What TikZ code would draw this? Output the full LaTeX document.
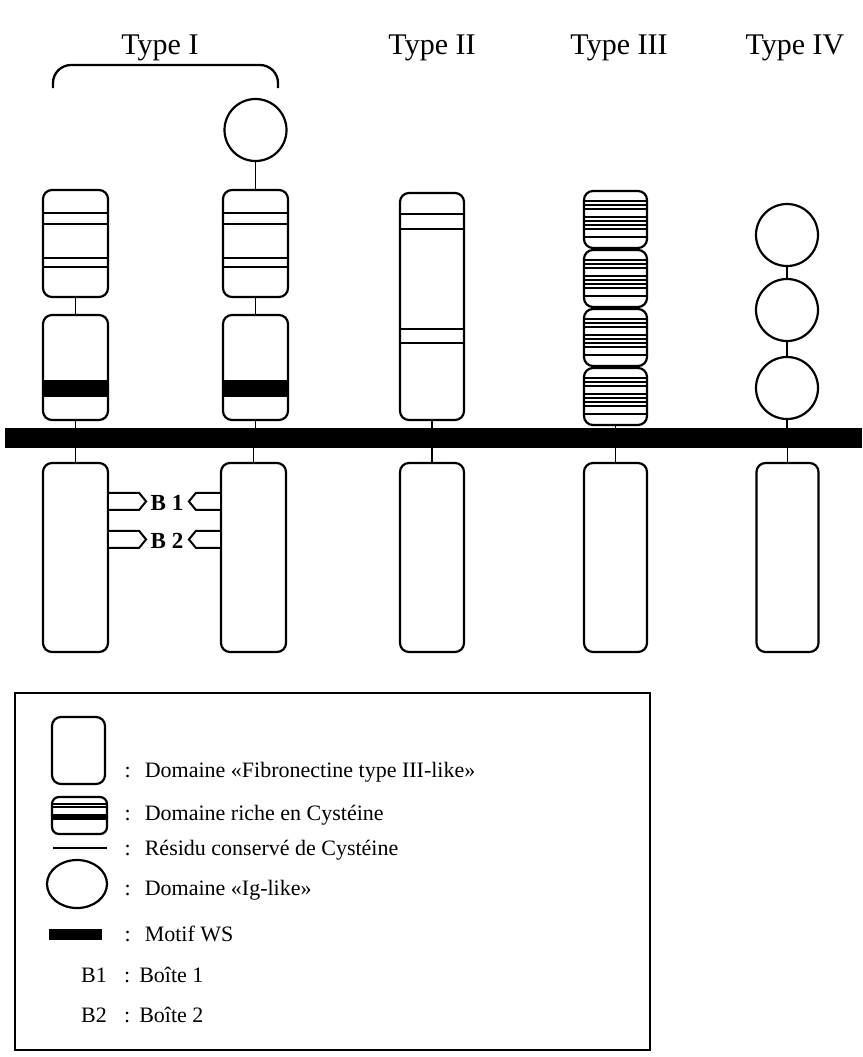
\documentclass[tikz,border=0pt]{standalone}
\usepackage{fontspec}
\setmainfont{Liberation Serif}
\usetikzlibrary{calc,shapes.geometric}

\begin{document}
\begin{tikzpicture}[x=1pt,y=-1pt,
  dom/.style={draw, line width=2.2pt, rounded corners=9pt, minimum width=65pt,
              inner sep=0pt, fill=white},
  ig/.style={draw, circle, line width=2.2pt, minimum size=62pt, inner sep=0pt},
  link/.style={line width=1.8pt},
  cysline/.style={line width=2.2pt},
  tag/.style={line width=2pt, fill=white, line join=miter},
  title/.style={font=\fontsize{30}{35}\selectfont, anchor=base, inner sep=0pt},
  leg/.style={font=\fontsize{22}{26}\selectfont, anchor=base west, inner sep=0pt},
  blab/.style={font=\bfseries\fontsize{23}{27}\selectfont, inner sep=0pt}
]
\useasboundingbox (0,0) rectangle (862,1057);

% ---- column titles
\node[title] (ttI)   at (160,55) {Type I};
\node[title] (ttII)  at (432,55) {Type II};
\node[title] (ttIII) at (619,55) {Type III};
\node[title] (ttIV)  at (795,55) {Type IV};

% bracket grouping the two type I receptors
\draw[line width=2.3pt, rounded corners=18pt] (53,88) -- (53,65) -- (278,65) -- (278,88);

% ---- cell membrane
\node[fill=black, draw=none, inner sep=0pt, minimum width=857pt, minimum height=20pt]
  (mem) at (433.5,438) {};

% ---- type I, first receptor
\node[dom, minimum height=107pt] (t1a) at (75.5,243.5) {};
\node[dom, minimum height=105pt] (t1b) at (75.5,367.5) {};
\foreach \o in {24,35,69,78}
  \draw[cysline] ([yshift=-\o pt]t1a.north west) -- ([yshift=-\o pt]t1a.north east);
\fill ([yshift=-66pt]t1b.north west) rectangle ([yshift=-83pt]t1b.north east);

% ---- type I, second receptor
\node[ig] (t2c) at (255.5,130) {};
\node[dom, minimum height=107pt] (t2a) at (255.5,243.5) {};
\node[dom, minimum height=105pt] (t2b) at (255.5,367.5) {};
\foreach \o in {24,35,69,78}
  \draw[cysline] ([yshift=-\o pt]t2a.north west) -- ([yshift=-\o pt]t2a.north east);
\fill ([yshift=-66pt]t2b.north west) rectangle ([yshift=-83pt]t2b.north east);

% ---- type II
\node[dom, minimum width=64pt, minimum height=227pt] (t3) at (432,306.5) {};
\foreach \o in {22,37,137,151}
  \draw[cysline] ([yshift=-\o pt]t3.north west) -- ([yshift=-\o pt]t3.north east);

% ---- type III: four cysteine-rich domains
\foreach \n/\y in {a/219.5,b/278.5,c/337.5,d/396.5} {
  \node[dom, minimum width=63pt, minimum height=57pt] (t4\n) at (615.5,\y) {};
  \foreach \o/\w in {11/1.8,15/2.4,19/1.6,27/2.4,31/1.6,35/2.2,39/1.6,47/2.4}
    \draw[line width=\w pt] ([yshift=-\o pt]t4\n.north west) -- ([yshift=-\o pt]t4\n.north east);
}

% ---- type IV: three Ig-like domains
\node[ig] (c1) at (787,235) {};
\node[ig] (c2) at (787,310) {};
\node[ig] (c3) at (787,388) {};

% ---- intracellular domains
\node[dom, minimum height=189pt] (l1) at (75.5,557.5) {};
\node[dom, minimum height=189pt] (l2) at (253.5,557.5) {};
\node[dom, minimum width=64pt, minimum height=189pt] (l3) at (432,557.5) {};
\node[dom, minimum width=63pt, minimum height=189pt] (l4) at (615.5,557.5) {};
\node[dom, minimum width=62pt, minimum height=189pt] (l5) at (787.5,557.5) {};

% ---- linkers
\draw[link] (t1a) -- (t1b);
\draw[link] (t1b.south) -- (t1b.south |- mem.north);
\draw[link] (l1.north |- mem.south) -- (l1.north);
\draw[link] (t2c) -- (t2a);
\draw[link] (t2a) -- (t2b);
\draw[link] (t2b.south) -- (t2b.south |- mem.north);
\draw[link] (l2.north |- mem.south) -- (l2.north);
\draw[link] (t3.south) -- (t3.south |- mem.north);
\draw[link] (l3.north |- mem.south) -- (l3.north);
\draw[link] (t4d.south) -- (t4d.south |- mem.north);
\draw[link] (l4.north |- mem.south) -- (l4.north);
\draw[link] (c1) -- (c2);
\draw[link] (c2) -- (c3);
\draw[link] (c3.south) -- (c3.south |- mem.north);
\draw[link] (l5.north |- mem.south) -- (l5.north);

% ---- box 1 and box 2 motifs
\foreach \o in {31,69} {
  \draw[tag] ([yshift=-\o pt]l1.north east) -- ++(30,0) -- ++(7,8.5) -- ++(-7,8.5) -- ++(-30,0);
  \draw[tag] ([yshift=-\o pt]l2.north west) -- ++(-24,0) -- ++(-7,8.5) -- ++(7,8.5) -- ++(24,0);
}
\node[blab] (bI)  at (167,502.5) {B 1};
\node[blab] (bII) at (167,540.5) {B 2};

% ---- legend
\draw[line width=2pt] (15,693) rectangle (650,1050);

\node[dom, minimum width=53pt, minimum height=67pt] (kfib) at (78.5,750.5) {};
\node[leg] (lfib) at (124.5,777) {:\hspace{14pt}Domaine «Fibronectine type III-like»};

\node[dom, minimum width=55pt, minimum height=37pt, rounded corners=7pt] (kcys) at (79.5,815.5) {};
\draw[line width=1.2pt] ([yshift=-8pt]kcys.north west) -- ([yshift=-8pt]kcys.north east);
\draw[line width=1.2pt] ([yshift=-11pt]kcys.north west) -- ([yshift=-11pt]kcys.north east);
\draw[line width=6pt] ([yshift=-21pt]kcys.north west) -- ([yshift=-21pt]kcys.north east);
\node[leg] (lcys) at (124.5,820) {:\hspace{14pt}Domaine riche en Cystéine};

\coordinate (kresA) at (53,848);
\coordinate (kresB) at (107,848);
\draw[line width=2.2pt] (kresA) -- (kresB);
\node[leg] (lres) at (124.5,855) {:\hspace{14pt}Résidu conservé de Cystéine};

\node[draw, ellipse, line width=2.2pt, minimum width=60pt, minimum height=48pt, inner sep=0pt]
  (kig) at (77,884) {};
\node[leg] (lig) at (124.5,895) {:\hspace{14pt}Domaine «Ig-like»};

\node[fill=black, inner sep=0pt, minimum width=53pt, minimum height=11pt] (kws) at (75.5,934.5) {};
\node[leg] (lws) at (124.5,941) {:\hspace{14pt}Motif WS};

\node[leg] (kb1) at (81,982) {B1};
\node[leg] (lb1) at (124,982) {:\hspace{9pt}Boîte 1};
\node[leg] (kb2) at (81,1022) {B2};
\node[leg] (lb2) at (124,1022) {:\hspace{9pt}Boîte 2};

\end{tikzpicture}
\end{document}
